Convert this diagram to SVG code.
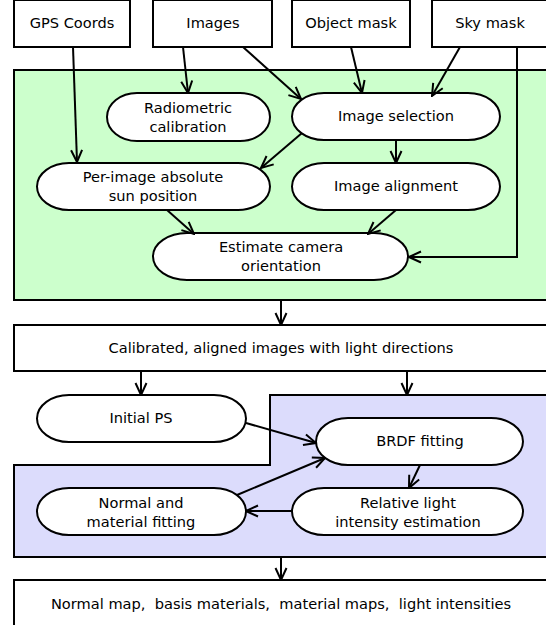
<svg xmlns="http://www.w3.org/2000/svg" width="546" height="625" viewBox="0 0 546 625">
<style>
.box{fill:#fff;stroke:#000;stroke-width:2}
.node{fill:#fff;stroke:#000;stroke-width:2}
.t{font-family:"DejaVu Sans",sans-serif;font-size:14.6px;text-anchor:middle;dominant-baseline:central;fill:#000}
.c{fill:none;stroke:#000;stroke-width:2}
</style>
<defs>
<marker id="a" markerUnits="userSpaceOnUse" markerWidth="14" markerHeight="14" viewBox="0 0 14 14" refX="13" refY="7" orient="auto">
<path d="M1,1.5 L13,7 L1,12.5" fill="none" stroke="#000" stroke-width="2"/>
</marker>
</defs>
<g id="green-panel"><rect x="14" y="70" width="540" height="230" fill="#ccffcc" stroke="#000" stroke-width="2"/></g>
<g id="blue-panel"><path d="M270,395 H554 V557 H14 V465 H270 Z" fill="#dcdcfc" stroke="#000" stroke-width="2"/></g>
<g id="gps"><rect class="box" x="14" y="0" width="116" height="47"/><text class="t" x="72" y="22">GPS Coords</text></g>
<g id="images"><rect class="box" x="153" y="0" width="119" height="47"/><text class="t" x="213" y="22">Images</text></g>
<g id="objmask"><rect class="box" x="292" y="0" width="118" height="47"/><text class="t" x="351" y="22">Object mask</text></g>
<g id="skymask"><rect class="box" x="432" y="0" width="122" height="47"/><text class="t" x="490" y="22">Sky mask</text></g>
<g id="radiometric"><rect class="node" x="107" y="93" width="163" height="48" rx="30" ry="24"/><text class="t" x="188" y="107">Radiometric</text><text class="t" x="188" y="126">calibration</text></g>
<g id="imgsel"><rect class="node" x="292" y="93" width="208" height="47" rx="32" ry="23.5"/><text class="t" x="396" y="115">Image selection</text></g>
<g id="sunpos"><rect class="node" x="37" y="163" width="233" height="47" rx="32" ry="23.5"/><text class="t" x="153" y="176">Per-image absolute</text><text class="t" x="153" y="195">sun position</text></g>
<g id="imgalign"><rect class="node" x="292" y="163" width="208" height="47" rx="32" ry="23.5"/><text class="t" x="396" y="185">Image alignment</text></g>
<g id="camorient"><rect class="node" x="153" y="233" width="255" height="47" rx="34" ry="23.5"/><text class="t" x="281" y="246">Estimate camera</text><text class="t" x="281" y="265">orientation</text></g>
<g id="calibrated"><rect class="box" x="14" y="325" width="540" height="46"/><text class="t" x="281" y="347">Calibrated, aligned images with light directions</text></g>
<g id="initps"><rect class="node" x="37" y="395" width="209" height="47" rx="32" ry="23.5"/><text class="t" x="141" y="417">Initial PS</text></g>
<g id="brdf"><rect class="node" x="316" y="418" width="207" height="47" rx="32" ry="23.5"/><text class="t" x="420" y="440">BRDF fitting</text></g>
<g id="relight"><rect class="node" x="292" y="488" width="231" height="47" rx="32" ry="23.5"/><text class="t" x="408" y="502">Relative light</text><text class="t" x="408" y="521">intensity estimation</text></g>
<g id="normalmat"><rect class="node" x="37" y="488" width="209" height="47" rx="32" ry="23.5"/><text class="t" x="141" y="502">Normal and</text><text class="t" x="141" y="521">material fitting</text></g>
<g id="output"><rect class="box" x="14" y="580" width="540" height="50"/><text class="t" x="281" y="603" xml:space="preserve">Normal map,  basis materials,  material maps,  light intensities</text></g>
<g id="connectors">
<line class="c" x1="73" y1="47" x2="77" y2="162" marker-end="url(#a)"/>
<line class="c" x1="183" y1="47" x2="188" y2="93" marker-end="url(#a)"/>
<line class="c" x1="243" y1="47" x2="301" y2="99" marker-end="url(#a)"/>
<line class="c" x1="351" y1="47" x2="362" y2="93" marker-end="url(#a)"/>
<line class="c" x1="460" y1="47" x2="432" y2="96" marker-end="url(#a)"/>
<line class="c" x1="302" y1="133" x2="261" y2="168" marker-end="url(#a)"/>
<line class="c" x1="396" y1="140" x2="396" y2="163" marker-end="url(#a)"/>
<line class="c" x1="167" y1="210" x2="194" y2="234" marker-end="url(#a)"/>
<line class="c" x1="396" y1="210" x2="368" y2="234" marker-end="url(#a)"/>
<polyline class="c" points="517,47 517,257 409,257" marker-end="url(#a)"/>
<line class="c" x1="281" y1="300" x2="281" y2="325" marker-end="url(#a)"/>
<line class="c" x1="141" y1="371" x2="141" y2="395" marker-end="url(#a)"/>
<line class="c" x1="407" y1="371" x2="407" y2="395" marker-end="url(#a)"/>
<line class="c" x1="246" y1="423" x2="316" y2="443" marker-end="url(#a)"/>
<line class="c" x1="237" y1="495" x2="325" y2="458" marker-end="url(#a)"/>
<line class="c" x1="420" y1="465" x2="409" y2="488" marker-end="url(#a)"/>
<line class="c" x1="292" y1="511" x2="246" y2="511" marker-end="url(#a)"/>
<line class="c" x1="281" y1="557" x2="281" y2="580" marker-end="url(#a)"/>
</g>
</svg>
